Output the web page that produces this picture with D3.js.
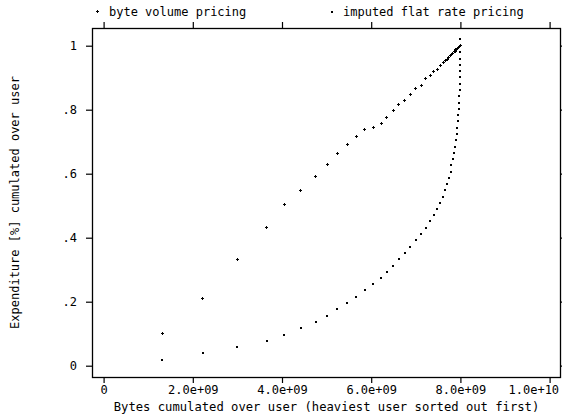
<!DOCTYPE html>
<html>
<head>
<meta charset="utf-8">
<script src="https://d3js.org/d3.v7.min.js"></script>
<style>
  body { margin: 0; background: #fff; }
  text { font-family: "DejaVu Sans Mono", "Liberation Mono", monospace; font-size: 12px; fill: #000; }
</style>
</head>
<body>
<svg id="chart" width="562" height="420"></svg>
<script>
// cumulated bytes, heaviest user first
var bytesCum = [1.31e9, 2.22e9, 3.0e9, 3.66e9, 4.05e9, 4.42e9, 4.76e9, 5.02e9, 5.24e9, 5.46e9,
  5.66e9, 5.85e9, 6.05e9, 6.22e9, 6.35e9, 6.49e9, 6.62e9, 6.75e9, 6.88e9, 7.0e9,
  7.12e9, 7.22e9, 7.32e9, 7.40e9, 7.48e9, 7.55e9, 7.61e9, 7.66e9, 7.70e9, 7.74e9,
  7.78e9, 7.80e9, 7.83e9, 7.86e9, 7.88e9, 7.90e9, 7.92e9, 7.93e9, 7.94e9, 7.95e9,
  7.96e9, 7.97e9, 7.975e9, 7.98e9, 7.99e9, 7.99e9, 8.0e9, 8.0e9, 8.0e9, 8.0e9,
  8.0e9, 8.0e9];

// byte volume pricing share
var volumeShare = [0.101, 0.211, 0.331, 0.431, 0.503, 0.547, 0.590, 0.630, 0.662, 0.690,
  0.716, 0.739, 0.744, 0.758, 0.776, 0.797, 0.815, 0.830, 0.848, 0.867,
  0.877, 0.896, 0.908, 0.919, 0.927, 0.939, 0.946, 0.953, 0.958, 0.964,
  0.970, 0.972, 0.977, 0.981, 0.983, 0.987, 0.989, 0.991, 0.992, 0.993,
  0.995, 0.996, 0.997, 0.997, 0.998, 0.999, 1.0, 1.0, 1.0, 1.0,
  1.0, 1.0];

// imputed flat rate pricing share
var flatShare = [0.019, 0.039, 0.058, 0.078, 0.097, 0.118, 0.137, 0.156, 0.176, 0.195,
  0.216, 0.236, 0.254, 0.274, 0.294, 0.313, 0.333, 0.353, 0.372, 0.392,
  0.412, 0.430, 0.451, 0.470, 0.490, 0.509, 0.528, 0.548, 0.567, 0.587,
  0.606, 0.626, 0.646, 0.666, 0.684, 0.704, 0.724, 0.744, 0.764, 0.782,
  0.803, 0.822, 0.842, 0.861, 0.881, 0.901, 0.920, 0.941, 0.960, 0.980,
  1.0, 1.02];

var xTicks = [0, 2e9, 4e9, 6e9, 8e9, 1e10];
var xTickLabels = ["0", "2.0e+09", "4.0e+09", "6.0e+09", "8.0e+09", "1.0e+10"];
var yTicks = [0, 0.2, 0.4, 0.6, 0.8, 1];
var yTickLabels = ["0", ".2", ".4", ".6", ".8", "1"];
var legendLabels = ["byte volume pricing", "imputed flat rate pricing"];

var svg = d3.select("#chart");
var box = {left: 92, right: 561, top: 28, bottom: 377};

var x = d3.scaleLinear().domain([0, 1e10]).range([103.6, 549.6]);
var y = d3.scaleLinear().domain([0, 1]).range([365.7, 45.7]);

// frame
svg.append("rect")
  .attr("x", box.left + 0.5).attr("y", box.top + 0.5)
  .attr("width", box.right - box.left - 1).attr("height", box.bottom - box.top)
  .attr("fill", "none").attr("stroke", "#000").attr("stroke-width", 1.3);

// axes
var bottomAxis = d3.axisBottom(x).tickValues(xTicks)
  .tickFormat(function(d, i) { return xTickLabels[i]; }).tickSize(6).tickPadding(2);
var gB = svg.append("g").attr("transform", "translate(0," + box.bottom + ")").call(bottomAxis);

var topAxis = d3.axisTop(x).tickValues(xTicks).tickFormat("").tickSize(6);
var gT = svg.append("g").attr("transform", "translate(0," + box.top + ")").call(topAxis);

var leftAxis = d3.axisLeft(y).tickValues(yTicks)
  .tickFormat(function(d, i) { return yTickLabels[i]; }).tickSize(6).tickPadding(9);
var gL = svg.append("g").attr("transform", "translate(" + box.left + ",0)").call(leftAxis);

var rightAxis = d3.axisRight(y).tickValues(yTicks).tickFormat("").tickSize(6);
var gR = svg.append("g").attr("transform", "translate(" + box.right + ",0)").call(rightAxis);

[gB, gT, gL, gR].forEach(function(g) {
  g.select(".domain").remove();
  g.selectAll(".tick line").attr("stroke", "#000").attr("stroke-width", 1.2);
  g.selectAll(".tick text").attr("font-family", null).attr("font-size", null).attr("fill", "#000");
});
// the last x label is pushed inside the window, as in the original
gB.selectAll(".tick text").filter(function(d) { return d === 1e10; })
  .attr("text-anchor", "end").attr("dx", 9);

// axis titles
svg.append("text")
  .attr("x", (box.left + box.right) / 2).attr("y", 411)
  .attr("text-anchor", "middle")
  .style("font-size", "12.2px")
  .text("Bytes cumulated over user (heaviest user sorted out first)");

svg.append("text")
  .attr("transform", "translate(19," + ((box.top + box.bottom) / 2) + ") rotate(-90)")
  .attr("text-anchor", "middle")
  .text("Expenditure [%] cumulated over user");

// series
var volData = bytesCum.map(function(b, i) { return {x: b, y: volumeShare[i]}; });
var flatData = bytesCum.map(function(b, i) { return {x: b, y: flatShare[i]}; });

var plus = "M-1,0.5H2M0.5,-1V2";

svg.append("g").selectAll("path")
  .data(volData).enter().append("path")
  .attr("transform", function(d) { return "translate(" + Math.round(x(d.x) - 0.5) + "," + Math.round(y(d.y) - 0.5) + ")"; })
  .attr("d", plus)
  .attr("stroke", "#000").attr("stroke-width", 1)
  .attr("shape-rendering", "crispEdges");

svg.append("g").selectAll("rect")
  .data(flatData).enter().append("rect")
  .attr("x", function(d) { return Math.round(x(d.x)) - 1; })
  .attr("y", function(d) { return Math.round(y(d.y)) - 1; })
  .attr("width", 2).attr("height", 2)
  .attr("fill", "#000");

// legend
var leg = svg.append("g");
leg.append("path").attr("transform", "translate(97,11)").attr("d", plus)
  .attr("stroke", "#000").attr("stroke-width", 1).attr("shape-rendering", "crispEdges");
leg.append("text").attr("x", 109).attr("y", 16).text(legendLabels[0]);
leg.append("rect").attr("x", 331).attr("y", 11).attr("width", 2).attr("height", 2).attr("fill", "#000");
leg.append("text").attr("x", 343).attr("y", 16).text(legendLabels[1]);
</script>
</body>
</html>
